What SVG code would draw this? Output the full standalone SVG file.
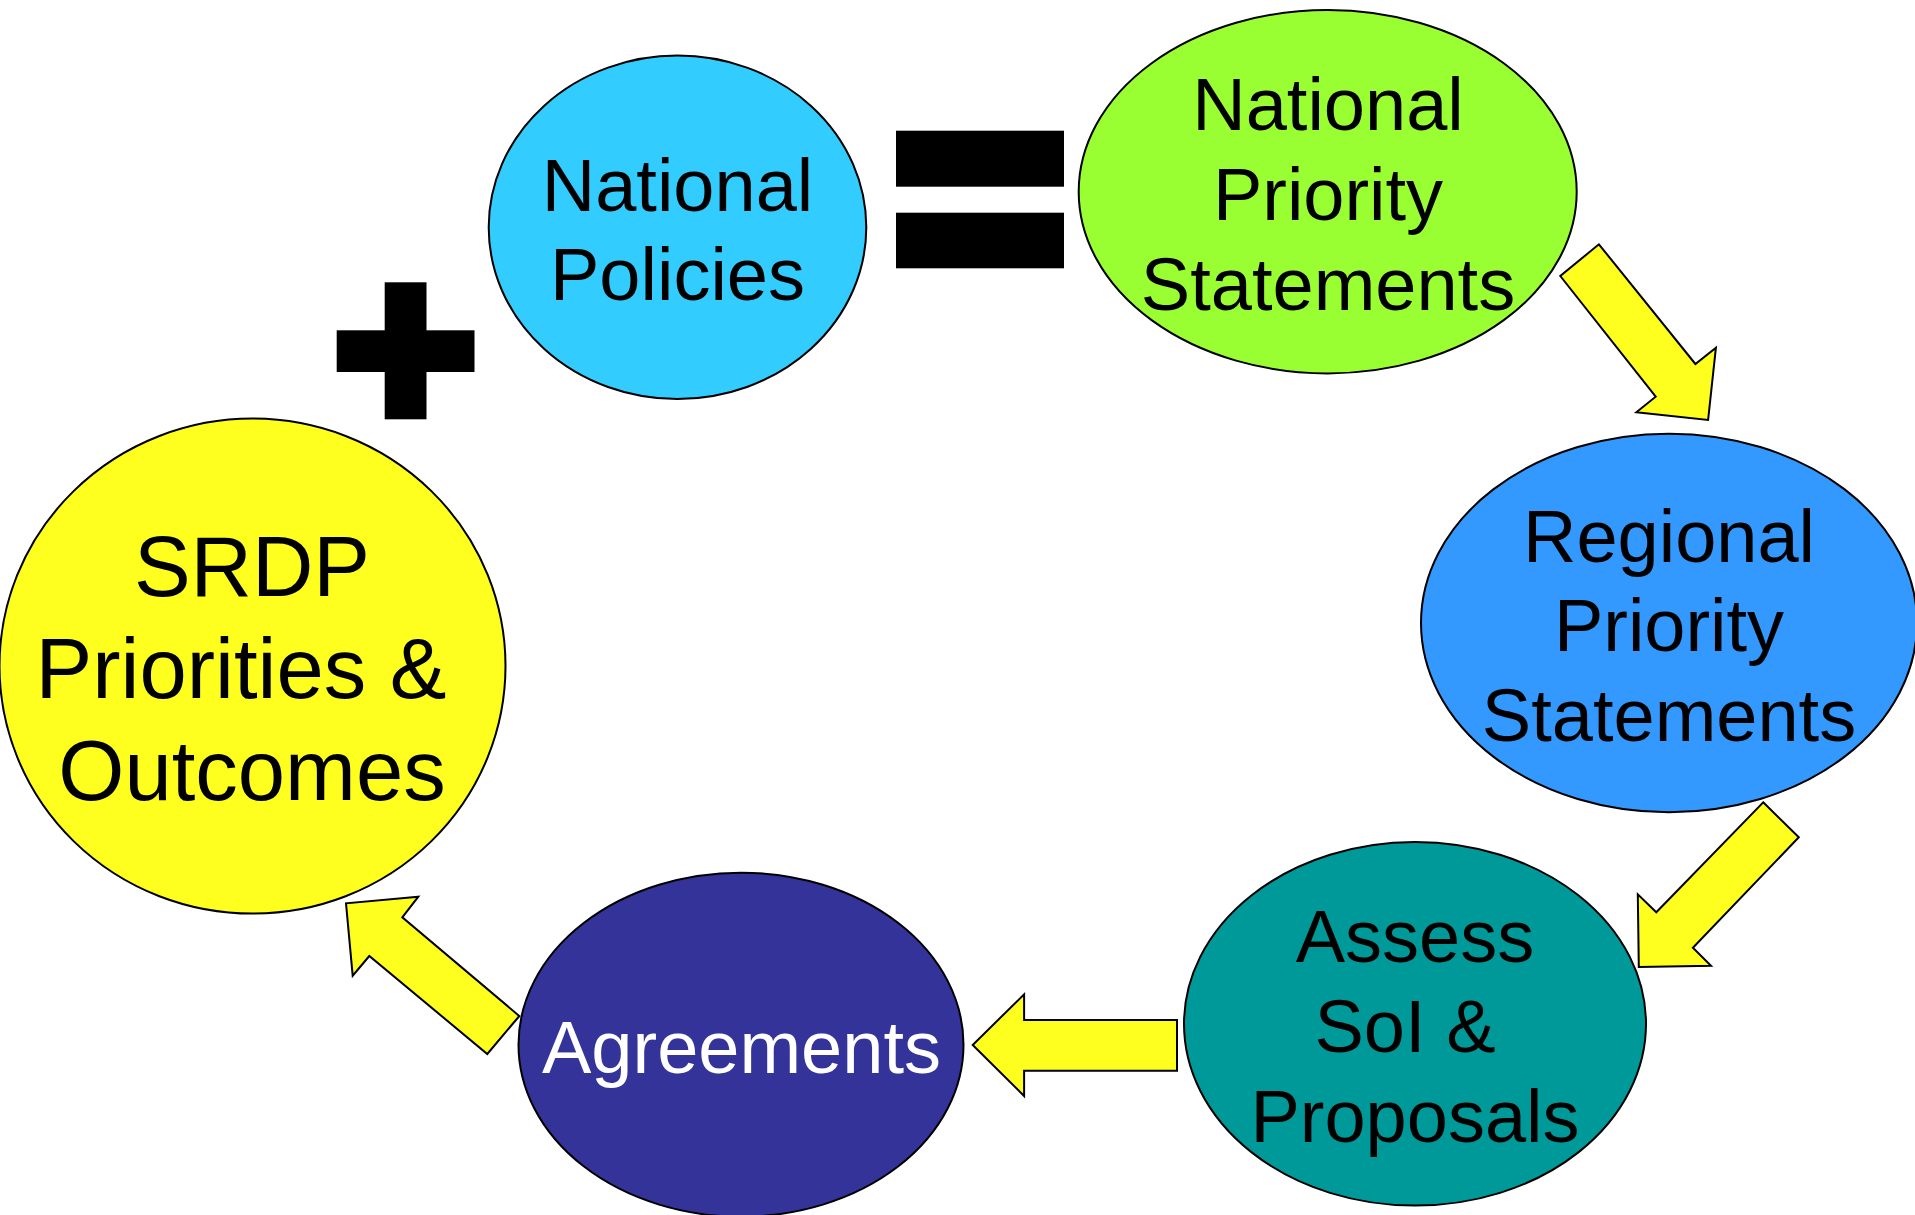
<svg xmlns="http://www.w3.org/2000/svg" width="1915" height="1215" viewBox="0 0 1915 1215">
<style>
.node{stroke:#000;stroke-width:2}
.lbl{font-family:"Liberation Sans",Arial,sans-serif;font-size:74px;fill:#000;text-anchor:middle}
.big{font-size:85px}
.arrow{fill:#FFFF1F;stroke:#000;stroke-width:2;stroke-linejoin:miter}
.sym{fill:#000}
</style>
<rect width="1915" height="1215" fill="#fff"/>
<g id="connectors">
<polygon class="arrow" points="1598.9,244.3 1695.4,364 1715.9,347.7 1708.1,420 1636.4,412.3 1655.7,396.7 1560.3,276"/>
<polygon class="arrow" points="1763.2,802.3 1798.8,837.3 1692.9,947.7 1711,965.7 1638.8,967 1637.8,894.3 1656.3,912.3"/>
<polygon class="arrow" points="1177,1020 1177,1070.7 1024.1,1070.7 1024.1,1096 972.7,1045 1024.1,994.3 1024.1,1020"/>
<polygon class="arrow" points="519.3,1016 487.3,1054 369.3,956 352.7,975.7 346,903.3 418.3,896.7 402.3,917.3"/>
</g>
<g id="plus">
<rect class="sym" x="384.7" y="282.3" width="41.8" height="137"/>
<rect class="sym" x="336.7" y="330.3" width="137.8" height="41.7"/>
</g>
<g id="equals">
<rect class="sym" x="896" y="130.7" width="168" height="56"/>
<rect class="sym" x="896" y="212.7" width="168" height="55.6"/>
</g>
<g id="national-policies">
<ellipse class="node" cx="677.5" cy="227.3" rx="188.8" ry="171.7" fill="#33CCFF"/>
<text class="lbl" x="677.5" y="210.7">National</text>
<text class="lbl" x="677.5" y="300">Policies</text>
</g>
<g id="national-priority-statements">
<ellipse class="node" cx="1327.7" cy="191.7" rx="249" ry="181.7" fill="#99FF33"/>
<text class="lbl" x="1328" y="130">National</text>
<text class="lbl" x="1328" y="220">Priority</text>
<text class="lbl" x="1328" y="310">Statements</text>
</g>
<g id="regional-priority-statements">
<ellipse class="node" cx="1669" cy="623" rx="248" ry="189.3" fill="#3399FF"/>
<text class="lbl" x="1669" y="562.3">Regional</text>
<text class="lbl" x="1669" y="650.7">Priority</text>
<text class="lbl" x="1669" y="740.7">Statements</text>
</g>
<g id="assess">
<ellipse class="node" cx="1415" cy="1023.8" rx="231" ry="181.8" fill="#009999"/>
<text class="lbl" x="1415" y="962.3">Assess</text>
<text class="lbl" x="1405" y="1052.3">SoI &amp;</text>
<text class="lbl" x="1415" y="1141.7">Proposals</text>
</g>
<g id="agreements">
<ellipse class="node" cx="741" cy="1044.7" rx="222.5" ry="172" fill="#333399"/>
<text class="lbl" x="741.5" y="1072.7" style="fill:#fff">Agreements</text>
</g>
<g id="srdp">
<ellipse class="node" cx="252.5" cy="666.1" rx="253" ry="247.5" fill="#FFFF1F"/>
<text class="lbl big" x="252" y="595.7">SRDP</text>
<text class="lbl big" x="241" y="698.2">Priorities &amp;</text>
<text class="lbl big" x="252" y="800">Outcomes</text>
</g>
</svg>
